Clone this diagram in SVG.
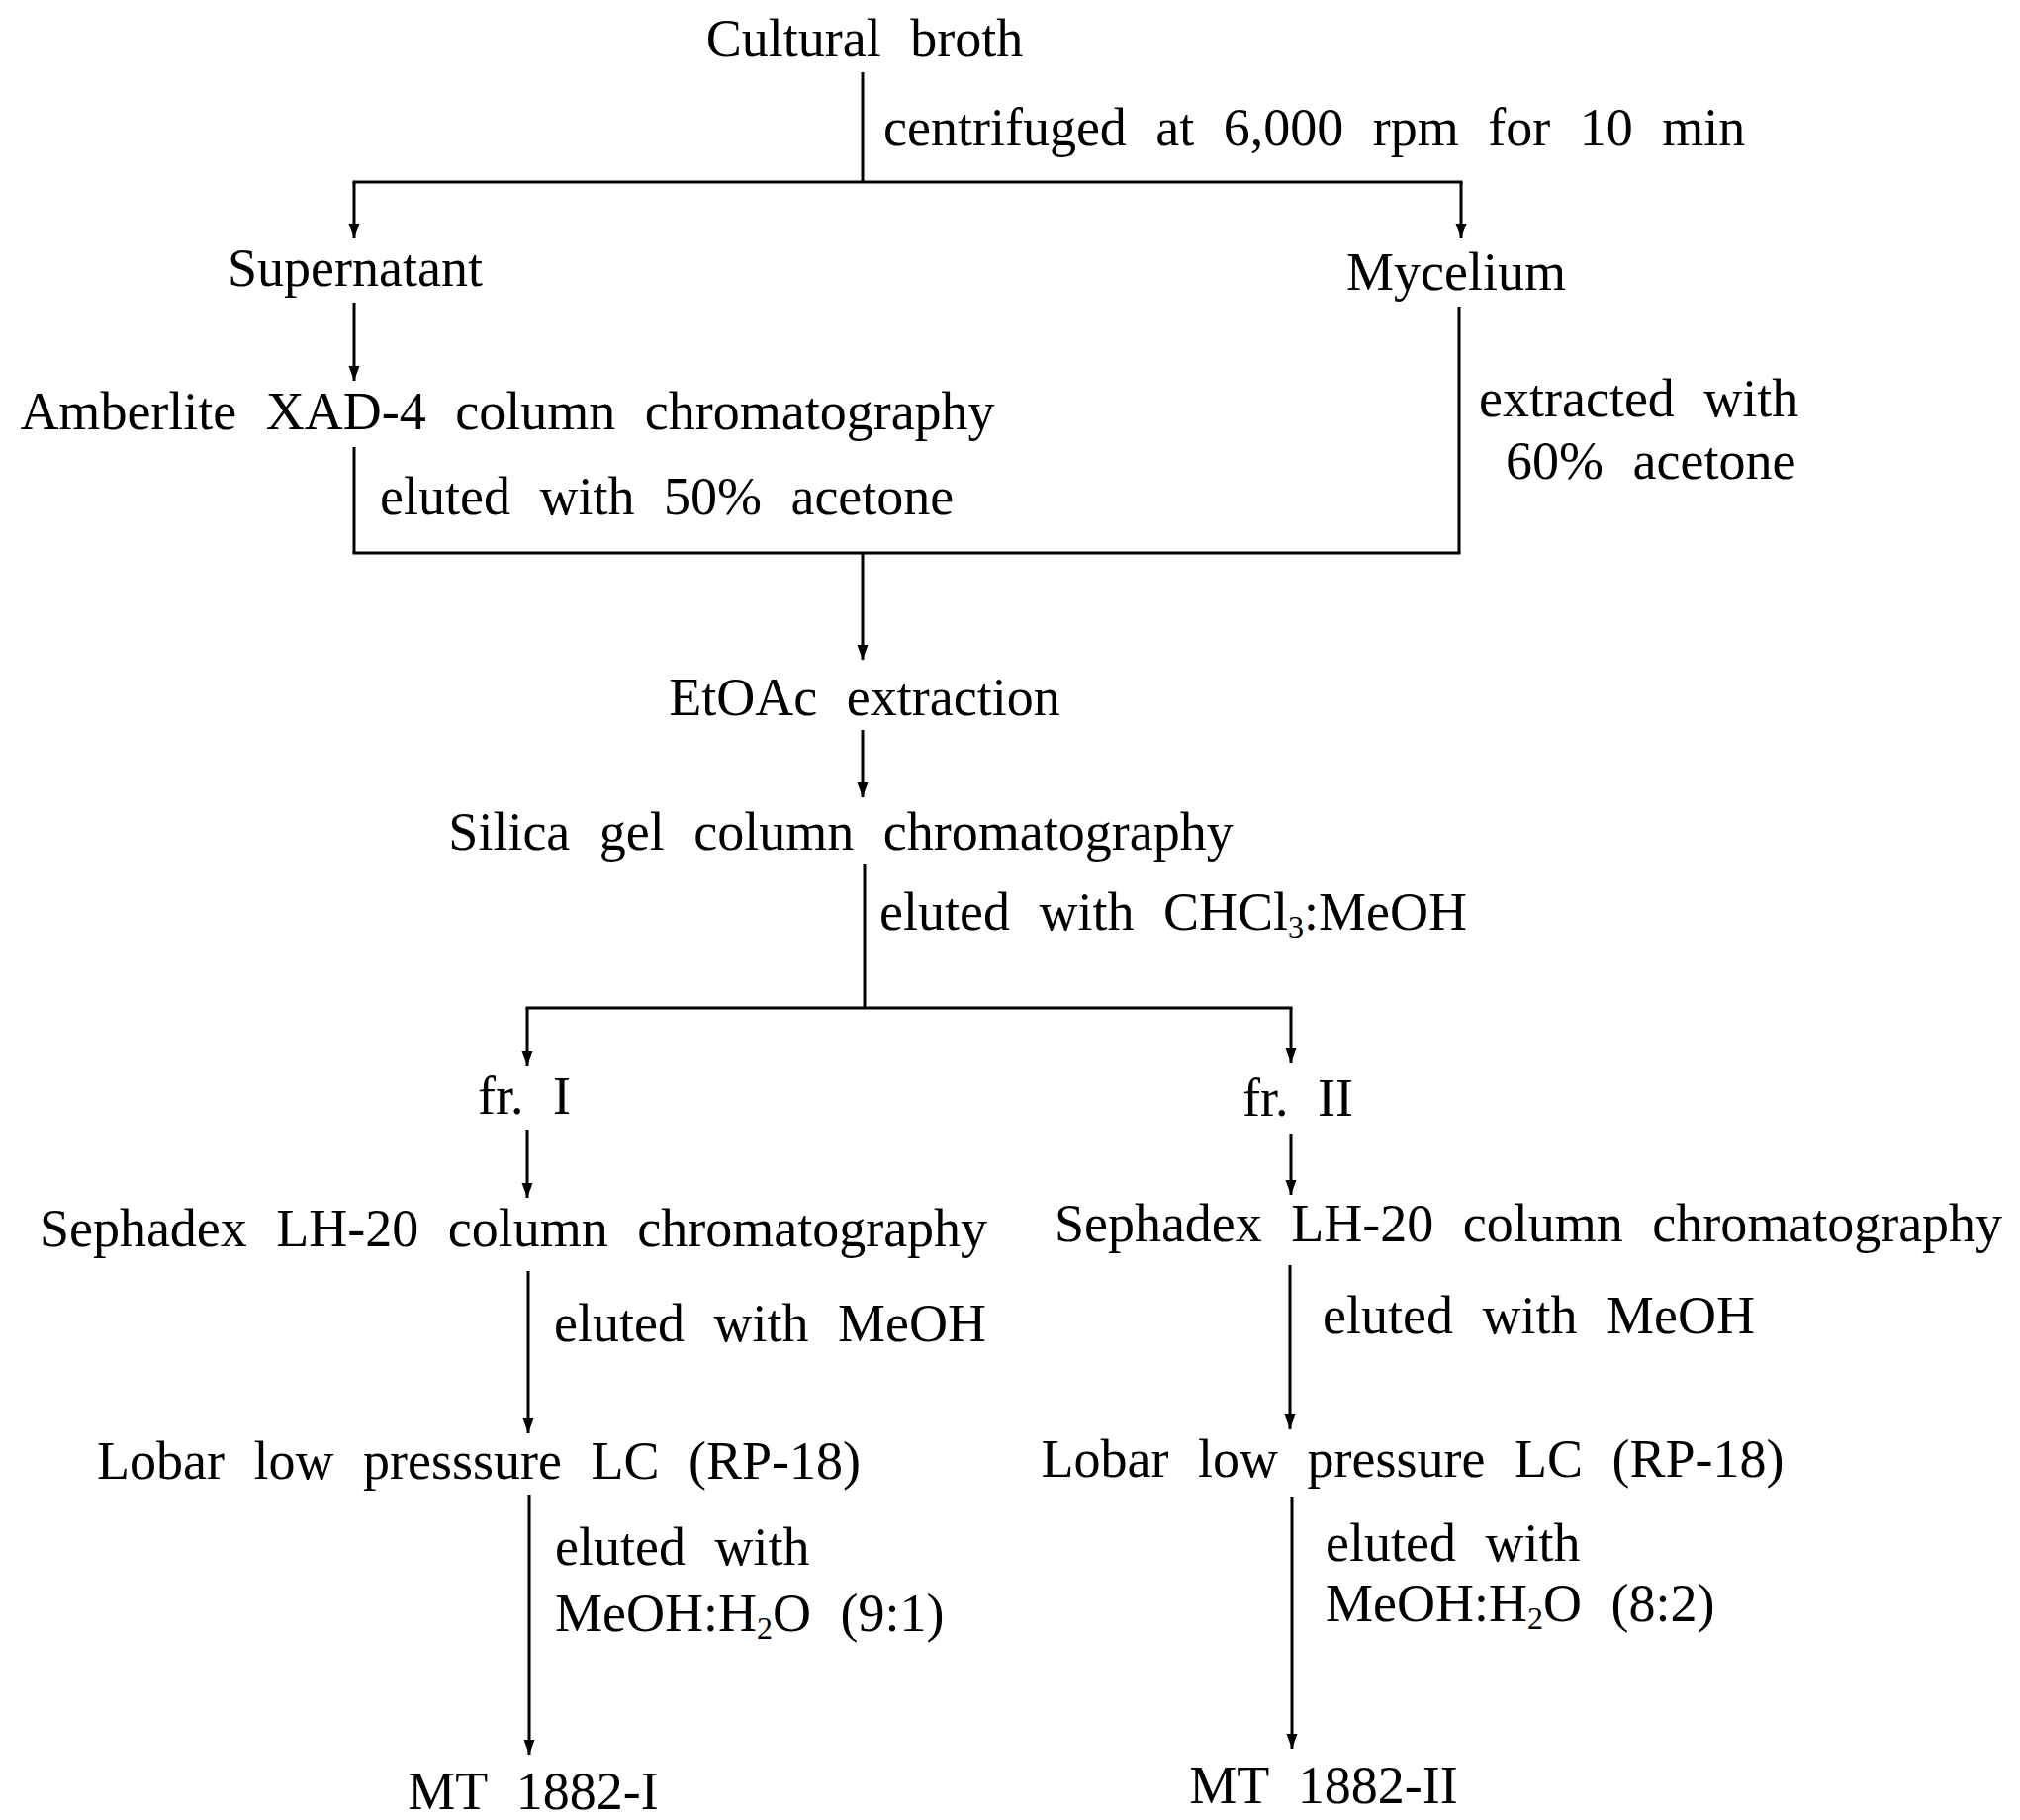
<svg xmlns="http://www.w3.org/2000/svg" width="2042" height="1840" viewBox="0 0 2042 1840">
<style>
text{font-family:"Liberation Serif","Times New Roman",serif;font-size:54px;fill:#000;word-spacing:16px}
.c{text-anchor:middle}
.sub{font-size:32px}
.ln{stroke:#000;stroke-width:3;fill:none}
.ar{stroke:#000;stroke-width:3;fill:none;marker-end:url(#ah)}
</style>
<defs>
<marker id="ah" markerUnits="userSpaceOnUse" markerWidth="16" markerHeight="14" viewBox="0 0 16 14" refX="15" refY="7" orient="auto">
<path d="M0,1.5 L15,7 L0,12.5 Z" fill="#000"/>
</marker>
</defs>
<rect width="2042" height="1840" fill="#fff"/>
<g id="connectors">
<line class="ln" x1="872" y1="73" x2="872" y2="184"/>
<line class="ln" x1="356.5" y1="184" x2="1478.5" y2="184"/>
<line class="ar" x1="358" y1="184" x2="358" y2="241"/>
<line class="ar" x1="1477" y1="184" x2="1477" y2="241"/>
<line class="ar" x1="358" y1="306" x2="358" y2="385"/>
<line class="ln" x1="358" y1="452" x2="358" y2="559"/>
<line class="ln" x1="1475" y1="310" x2="1475" y2="559"/>
<line class="ln" x1="356.5" y1="559" x2="1476.5" y2="559"/>
<line class="ar" x1="872" y1="559" x2="872" y2="667"/>
<line class="ar" x1="872" y1="738" x2="872" y2="806"/>
<line class="ln" x1="874" y1="873" x2="874" y2="1019"/>
<line class="ln" x1="531.5" y1="1019" x2="1306.5" y2="1019"/>
<line class="ar" x1="533" y1="1019" x2="533" y2="1078"/>
<line class="ar" x1="1305" y1="1019" x2="1305" y2="1075"/>
<line class="ar" x1="533" y1="1142" x2="533" y2="1211"/>
<line class="ar" x1="1305" y1="1146" x2="1305" y2="1208"/>
<line class="ar" x1="534" y1="1285" x2="534" y2="1449"/>
<line class="ar" x1="1304" y1="1279" x2="1304" y2="1445"/>
<line class="ar" x1="535" y1="1511" x2="535" y2="1774"/>
<line class="ar" x1="1306" y1="1513" x2="1306" y2="1768"/>
</g>
<g id="n-broth"><text class="c" x="874" y="57">Cultural broth</text></g>
<g id="l-centrifuged"><text x="893" y="147">centrifuged at 6,000 rpm for 10 min</text></g>
<g id="n-supernatant"><text class="c" x="359" y="289">Supernatant</text></g>
<g id="n-mycelium"><text class="c" x="1472" y="293">Mycelium</text></g>
<g id="n-amberlite"><text class="c" x="513" y="434">Amberlite XAD-4 column chromatography</text></g>
<g id="l-eluted50"><text x="384" y="520">eluted with 50% acetone</text></g>
<g id="l-extracted"><text x="1495" y="421">extracted with</text><text x="1522" y="484">60% acetone</text></g>
<g id="n-etoac"><text class="c" x="874" y="723">EtOAc extraction</text></g>
<g id="n-silica"><text class="c" x="850" y="859">Silica gel column chromatography</text></g>
<g id="l-chcl3"><text x="889" y="940">eluted with CHCl<tspan class="sub" dy="8">3</tspan><tspan dy="-8">:MeOH</tspan></text></g>
<g id="n-fr1"><text class="c" x="530" y="1126">fr. I</text></g>
<g id="n-fr2"><text class="c" x="1312" y="1128">fr. II</text></g>
<g id="n-seph1"><text class="c" x="519" y="1260">Sephadex LH-20 column chromatography</text></g>
<g id="n-seph2"><text class="c" x="1545" y="1255">Sephadex LH-20 column chromatography</text></g>
<g id="l-meoh1"><text x="560" y="1356">eluted with MeOH</text></g>
<g id="l-meoh2"><text x="1337" y="1348">eluted with MeOH</text></g>
<g id="n-lobar1"><text class="c" x="484" y="1495">Lobar low presssure LC (RP-18)</text></g>
<g id="n-lobar2"><text class="c" x="1428" y="1493">Lobar low pressure LC (RP-18)</text></g>
<g id="l-h2o1"><text x="561" y="1582">eluted with</text><text x="561" y="1649">MeOH:H<tspan class="sub" dy="8">2</tspan><tspan dy="-8">O (9:1)</tspan></text></g>
<g id="l-h2o2"><text x="1340" y="1578">eluted with</text><text x="1340" y="1639">MeOH:H<tspan class="sub" dy="8">2</tspan><tspan dy="-8">O (8:2)</tspan></text></g>
<g id="n-mt1"><text class="c" x="539" y="1829">MT 1882-I</text></g>
<g id="n-mt2"><text class="c" x="1338" y="1823">MT 1882-II</text></g>
</svg>
